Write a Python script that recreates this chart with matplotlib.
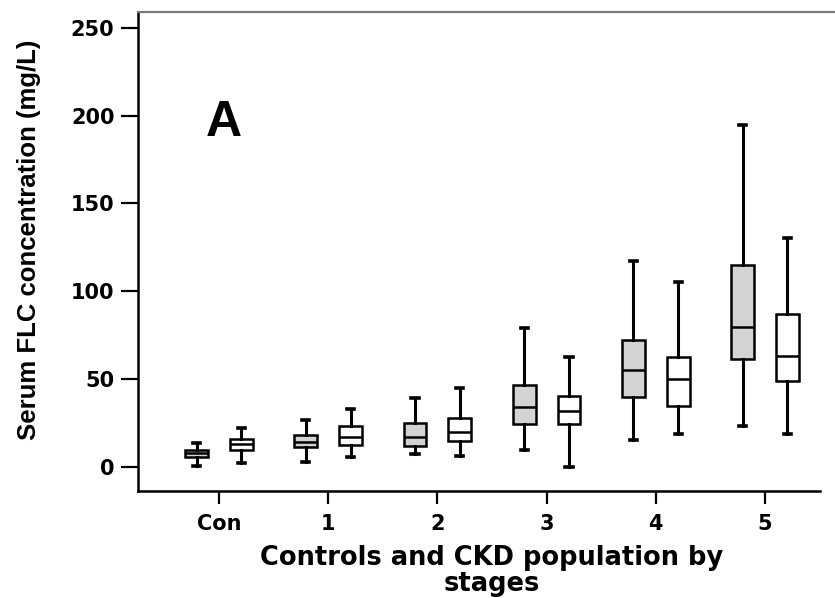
import matplotlib
matplotlib.use("Agg")
import matplotlib.pyplot as plt

plt.rcParams['font.family'] = ['DejaVu Sans']

categories = ['Con', '1', '2', '3', '4', '5']

# grey boxes
gray_whislo = [0.5, 3.0, 7.2, 9.7, 15.4, 23.3]
gray_q1 = [5.7, 11.6, 12.1, 24.5, 39.7, 61.5]
gray_med = [8.0, 14.4, 17.3, 34.0, 55.2, 79.9]
gray_q3 = [9.7, 18.2, 25.2, 46.7, 72.3, 115.0]
gray_whishi = [13.7, 26.8, 39.0, 79.0, 117.3, 194.8]

# white boxes
white_whislo = [2.5, 5.5, 6.3, 0.2, 18.8, 18.8]
white_q1 = [9.7, 12.5, 15.0, 24.3, 34.7, 49.1]
white_med = [13.0, 17.3, 19.7, 31.9, 49.9, 63.4]
white_q3 = [15.9, 23.5, 27.7, 40.6, 62.8, 87.0]
white_whishi = [22.4, 32.8, 44.8, 62.8, 105.2, 130.2]

yticks = [0, 50, 100, 150, 200, 250]


def make_stats(lo, q1, med, q3, hi):
    return [dict(whislo=a, q1=b, med=c, q3=d, whishi=e, fliers=[])
            for a, b, c, d, e in zip(lo, q1, med, q3, hi)]


fig = plt.figure(figsize=(8.35, 5.98), dpi=100)
ax = fig.add_axes([138 / 835, 107 / 598, 697 / 835, 479 / 598])

x = list(range(len(categories)))
off = 0.205
lw = 1.8

common = dict(widths=0.21, patch_artist=True, showfliers=False,
              capwidths=0.065,
              medianprops=dict(color='black', linewidth=lw),
              whiskerprops=dict(color='black', linewidth=2.2),
              capprops=dict(color='black', linewidth=2.6))

ax.bxp(make_stats(gray_whislo, gray_q1, gray_med, gray_q3, gray_whishi),
       positions=[i - off for i in x],
       boxprops=dict(facecolor='#d3d3d3', edgecolor='black', linewidth=lw),
       **common)
ax.bxp(make_stats(white_whislo, white_q1, white_med, white_q3, white_whishi),
       positions=[i + off for i in x],
       boxprops=dict(facecolor='white', edgecolor='black', linewidth=lw),
       **common)

ax.set_xlim(-0.742, 5.641)
ax.set_ylim(-13.7, 259)
ax.set_xticks(x)
ax.set_xticklabels(categories)
ax.set_yticks(yticks)

for lab in ax.get_xticklabels() + ax.get_yticklabels():
    lab.set_fontweight('bold')
    lab.set_fontsize(15)

ax.tick_params(axis='y', length=12, width=1.6, pad=5)
ax.tick_params(axis='x', length=9.5, width=1.6, pad=7)

ax.spines['right'].set_visible(False)
ax.spines['top'].set_color('#777777')
ax.spines['top'].set_linewidth(1.6)
ax.spines['left'].set_linewidth(1.8)
ax.spines['bottom'].set_linewidth(1.8)
ax.spines['bottom'].set_bounds(-0.742, 5.504)

ax.text(0.123, 0.741, 'A', transform=ax.transAxes, fontsize=36,
        fontweight='bold', ha='center', va='baseline',
        family=['Liberation Sans', 'DejaVu Sans'])

fig.text(29 / 835, 1 - 240 / 598, 'Serum FLC concentration (mg/L)',
         rotation=90, ha='center', va='center', fontsize=18.5,
         fontweight='bold',
         family=['Liberation Sans Narrow', 'Liberation Sans'])

fig.text(492 / 835, 1 - 565 / 598, 'Controls and CKD population by',
         ha='center', va='baseline', fontsize=18.5, fontweight='bold')
fig.text(492 / 835, 1 - 591 / 598, 'stages',
         ha='center', va='baseline', fontsize=18.5, fontweight='bold')

fig.savefig('out.png', dpi=100)
